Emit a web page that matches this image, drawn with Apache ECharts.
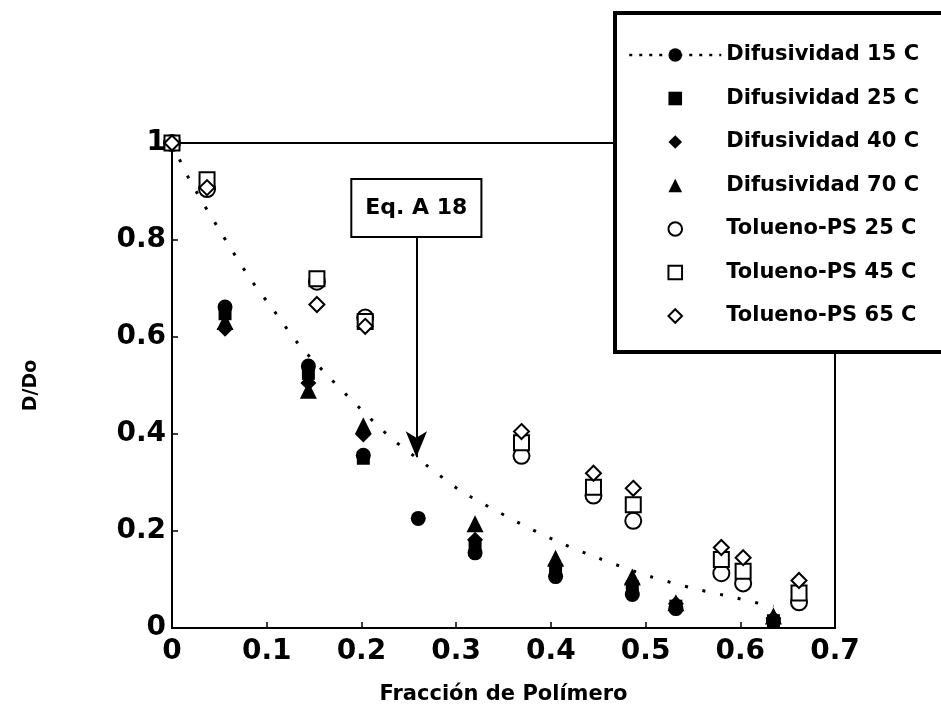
<!DOCTYPE html>
<html>
<head>
<meta charset="utf-8">
<script src="https://cdn.jsdelivr.net/npm/echarts@6/dist/echarts.min.js"></script>
<style>html,body{margin:0;padding:0;background:#fff}#c{width:941px;height:710px}</style>
</head>
<body>
<div id="c"></div>
<script>
// ---- data ----
const seriesNames = ['Difusividad 15 C','Difusividad 25 C','Difusividad 40 C','Difusividad 70 C','Tolueno-PS 25 C','Tolueno-PS 45 C','Tolueno-PS 65 C'];
const xTickLabels = ['0','0.1','0.2','0.3','0.4','0.5','0.6','0.7'];
const yTickLabels = ['0','0.2','0.4','0.6','0.8','1'];

const difu15 = [[0.056,0.662],[0.144,0.540],[0.202,0.356],[0.260,0.226],[0.320,0.155],[0.405,0.106],[0.486,0.069],[0.532,0.040],[0.635,0.015]];
const difu25 = [[0.056,0.648],[0.144,0.525],[0.202,0.350],[0.320,0.170],[0.405,0.120],[0.486,0.085],[0.532,0.045],[0.635,0.015]];
const difu40 = [[0.056,0.617],[0.144,0.505],[0.202,0.399],[0.320,0.182],[0.405,0.130],[0.486,0.092],[0.532,0.050],[0.635,0.020]];
const difu70 = [[0.056,0.632],[0.144,0.490],[0.202,0.417],[0.320,0.215],[0.405,0.144],[0.486,0.105],[0.532,0.052],[0.635,0.025]];
const tol25 = [[0,1],[0.037,0.905],[0.153,0.714],[0.204,0.640],[0.369,0.355],[0.445,0.273],[0.487,0.221],[0.580,0.113],[0.603,0.092],[0.662,0.053]];
const tol45 = [[0,1],[0.037,0.924],[0.153,0.720],[0.204,0.632],[0.369,0.382],[0.445,0.290],[0.487,0.254],[0.580,0.141],[0.603,0.117],[0.662,0.072]];
const tol65 = [[0,1],[0.037,0.908],[0.153,0.667],[0.204,0.622],[0.369,0.405],[0.445,0.319],[0.487,0.288],[0.580,0.166],[0.603,0.145],[0.662,0.098]];

// dotted curve (Eq. A 18)
const eqCurve = [[0,1],[0.018,0.926],[0.049,0.824],[0.082,0.722],[0.107,0.656],[0.133,0.587],[0.165,0.519],[0.199,0.452],[0.233,0.389],[0.269,0.335],[0.304,0.284],[0.341,0.243],[0.376,0.207],[0.412,0.174],[0.449,0.145],[0.502,0.108],[0.554,0.080],[0.589,0.065],[0.624,0.049],[0.635,0.045]];
const eqLabel = 'Eq. A 18';
const eqArrowX = 0.258, eqArrowTop = 0.808, eqArrowTip = 0.352;

// ---- chart ----
const FONT = 'DejaVu Sans';
const chart = echarts.init(document.getElementById('c'), null, {renderer:'canvas'});

function pts(name, data, symbol, size, filled) {
  return {
    name, type:'line', data, symbol, symbolSize:size, showSymbol:true, showAllSymbol:true,
    clip:false, animation:false, silent:true,
    lineStyle:{width:0, opacity:0},
    itemStyle: filled ? {color:'#000', borderWidth:0} : {color:'#fff', borderColor:'#000', borderWidth:2},
    emphasis:{disabled:true}
  };
}

const option = {
  animation:false,
  grid:{left:172, right:106, top:143, bottom:78, show:true, borderColor:'#000', borderWidth:2, backgroundColor:'transparent'},
  xAxis:{
    type:'value', min:0, max:0.7, interval:0.1,
    name:'Fracción de Polímero', nameLocation:'middle', nameGap:56,
    nameTextStyle:{fontFamily:FONT, fontSize:21, fontWeight:'bold', color:'#000'},
    axisLine:{onZero:false, lineStyle:{color:'#000', width:2}},
    axisTick:{inside:true, length:6, lineStyle:{color:'#000', width:1.5}},
    axisLabel:{margin:10, fontFamily:FONT, fontSize:28, fontWeight:'bold', color:'#000',
      formatter:v => xTickLabels[Math.round(v*10)]},
    splitLine:{show:false}
  },
  yAxis:{
    type:'value', min:0, max:1, interval:0.2,
    name:'D/Do', nameLocation:'middle', nameGap:131, nameRotate:90,
    nameTextStyle:{fontFamily:FONT, fontSize:19, fontWeight:'bold', color:'#000'},
    axisLine:{onZero:false, lineStyle:{color:'#000', width:2}},
    axisTick:{inside:true, length:6, lineStyle:{color:'#000', width:1.5}},
    axisLabel:{margin:6, fontFamily:FONT, fontSize:28, fontWeight:'bold', color:'#000',
      formatter:v => yTickLabels[Math.round(v*5)]},
    splitLine:{show:false}
  },
  legend:{
    orient:'vertical', left:615, top:13, padding:[31,60,25,13],
    itemWidth:92, itemHeight:17, itemGap:21.5,
    backgroundColor:'#fff', borderColor:'#000', borderWidth:4, borderRadius:0,
    selectedMode:false, z:10,
    textStyle:{fontFamily:FONT, fontSize:21, fontWeight:'bold', color:'#000', lineHeight:22},
    data:[
      {name:seriesNames[0], lineStyle:{type:[3,7], width:2.5, color:'#000'}},
      {name:seriesNames[1]},
      {name:seriesNames[2]},
      {name:seriesNames[3]},
      {name:seriesNames[4], itemStyle:{borderWidth:2}},
      {name:seriesNames[5], itemStyle:{borderWidth:2}},
      {name:seriesNames[6], itemStyle:{borderWidth:2}}
    ]
  },
  series:[
    {
      name:seriesNames[0], type:'line', data:eqCurve, smooth:0.3,
      symbol:'circle', symbolSize:14, showSymbol:false, silent:true, animation:false,
      lineStyle:{color:'#000', width:3, type:[3,15]},
      itemStyle:{color:'#000'}, z:1,
      markLine:{
        silent:true, animation:false,
        symbol:['none','arrow'], symbolSize:[16,26],
        lineStyle:{color:'#000', width:2, type:'solid'},
        label:{show:true, position:'start', distance:0, formatter:eqLabel,
          fontFamily:FONT, fontSize:22, fontWeight:'bold', color:'#000',
          backgroundColor:'#fff', borderColor:'#000', borderWidth:2, padding:[17,13,17,13]},
        data:[[{coord:[eqArrowX, eqArrowTop]},{coord:[eqArrowX, eqArrowTip]}]]
      }
    },
    pts(seriesNames[0], difu15, 'circle', 15, true),
    pts(seriesNames[1], difu25, 'rect', 13, true),
    pts(seriesNames[2], difu40, 'diamond', 16, true),
    pts(seriesNames[3], difu70, 'triangle', 17, true),
    pts(seriesNames[4], tol25, 'circle', 16, false),
    pts(seriesNames[5], tol45, 'rect', 15, false),
    pts(seriesNames[6], tol65, 'diamond', 15, false)
  ]
};
chart.setOption(option);
</script>
</body>
</html>
